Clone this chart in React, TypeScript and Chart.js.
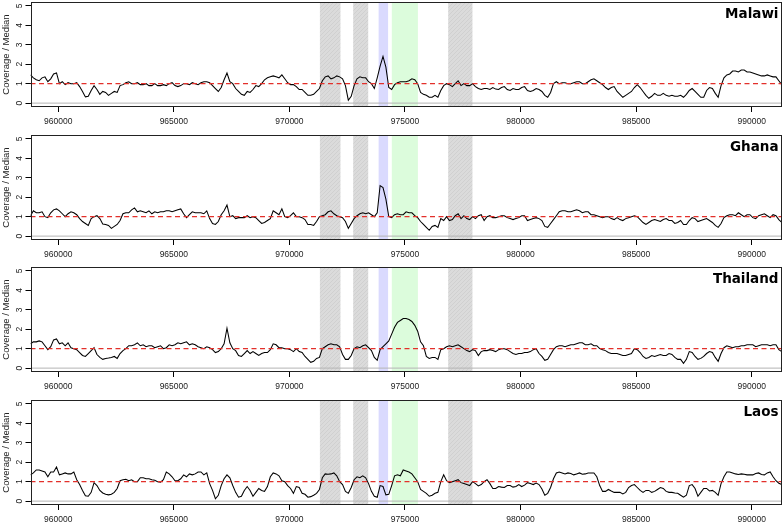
import React, { useEffect, useRef } from 'react';
import { Chart, registerables } from 'chart.js';
Chart.register(...registerables);

// ---- data ----
// coverage read at 250 bp bins, plus the values half-way between bins
const binStart = 958800;
const binStep = 250;
const midOffset = 125;
const xMin = 958800;
const xMax = 991290;
const xTickValues = [960000, 965000, 970000, 975000, 980000, 985000, 990000];
const yTickValues = [0, 1, 2, 3, 4, 5];
const medianLevel = 1;
const populations = ['Malawi', 'Ghana', 'Thailand', 'Laos'];

const malawiBins = [
  1.45, 1.2, 1.3, 1.1, 1.5, 1.0, 0.95, 1.0, 1.05, 0.6,
  0.35, 0.9, 0.45, 0.55, 0.5, 0.55, 0.95, 1.1, 1.0, 0.95,
  1.0, 0.9, 0.9, 0.95, 1.0, 0.9, 0.9, 1.0, 1.05, 0.95,
  1.1, 1.05, 0.75, 0.8, 1.55, 1.0, 0.6, 0.4, 0.55, 0.9,
  1.0, 1.3, 1.4, 1.3, 1.25, 0.95, 0.85, 0.7, 0.4, 0.45,
  0.75, 1.35, 1.25, 1.4, 1.25, 0.15, 0.9, 1.35, 1.3, 1.0,
  1.3, 2.4, 0.8, 0.95, 1.1,
  1.1, 1.25, 1.0, 0.45, 0.3, 0.4, 0.65, 1.0, 0.85, 1.15,
  1.0, 0.9, 0.85, 0.7, 0.75, 0.8, 0.7, 0.85, 0.65, 0.7,
  0.8, 0.65, 0.65, 0.7, 0.4, 0.55, 1.1, 1.05, 1.0, 1.05,
  1.1, 1.0, 1.2, 1.15, 0.95, 0.7, 0.85, 0.45, 0.4, 0.6,
  0.95, 0.6, 0.25, 0.5, 0.4, 0.4, 0.4, 0.35, 0.3, 0.65,
  0.6, 0.3, 0.65, 0.75, 0.3, 1.3, 1.5, 1.65, 1.7, 1.6,
  1.55, 1.45, 1.4, 1.4, 1.35, 0.95,
];
const malawiMid = [
  1.3, 1.15, 1.35, 1.25, 1.55, 1.1, 1.05, 1.0, 0.85, 0.32,
  0.65, 0.7, 0.6, 0.4, 0.6, 0.9, 1.05, 1.0, 1.05, 0.95,
  0.9, 1.0, 0.9, 0.9, 1.05, 0.85, 1.0, 0.95, 1.0, 1.05,
  1.1, 0.9, 0.6, 1.2, 1.1, 0.75, 0.45, 0.6, 0.7, 0.85,
  1.2, 1.35, 1.35, 1.45, 1.05, 0.95, 0.7, 0.55, 0.4, 0.6,
  1.15, 1.4, 1.3, 1.35, 0.9, 0.35, 1.25, 1.3, 1.1, 0.75,
  1.9, 1.85, 0.7, 1.05, 1.1,
  1.15, 1.2, 0.55, 0.4, 0.3, 0.3, 0.9, 0.95, 1.0, 0.9,
  0.9, 1.0, 0.75, 0.75, 0.7, 0.72, 0.8, 0.7, 0.75, 0.7,
  0.85, 0.6, 0.75, 0.6, 0.3, 1.0, 1.0, 1.05, 1.0, 1.1,
  1.0, 1.1, 1.25, 1.05, 0.8, 0.8, 0.6, 0.3, 0.5, 0.8,
  0.8, 0.4, 0.35, 0.4, 0.5, 0.35, 0.35, 0.4, 0.45, 0.75,
  0.45, 0.3, 0.8, 0.5, 0.9, 1.45, 1.65, 1.6, 1.7, 1.6,
  1.5, 1.4, 1.45, 1.35, 1.15,
];
const ghanaBins = [
  1.05, 1.2, 1.25, 0.95, 1.35, 1.3, 1.0, 1.25, 1.1, 0.75,
  0.55, 1.0, 0.9, 0.6, 0.4, 0.6, 1.15, 1.2, 1.45, 1.3,
  1.2, 1.15, 1.2, 1.25, 1.3, 1.3, 1.4, 0.95, 1.25, 1.2,
  1.15, 0.9, 0.6, 1.1, 1.6, 1.05, 0.95, 0.95, 0.95, 0.95,
  0.65, 0.8, 1.3, 1.1, 1.0, 1.05, 1.0, 0.95, 0.6, 0.55,
  1.0, 1.1, 1.3, 1.05, 0.95, 0.4, 0.9, 1.15, 1.15, 1.1,
  1.2, 2.5, 1.0, 1.1, 1.1,
  1.25, 1.2, 0.95, 0.6, 0.3, 0.55, 0.9, 1.0, 0.85, 1.15,
  1.05, 0.85, 0.9, 1.1, 1.0, 0.95, 1.0, 1.05, 0.9, 0.9,
  1.05, 0.8, 0.9, 0.9, 0.5, 0.65, 1.05, 1.3, 1.25, 1.3,
  1.3, 1.25, 1.1, 1.05, 0.95, 1.0, 0.85, 0.85, 0.9, 1.0,
  1.0, 0.7, 0.7, 0.85, 0.75, 0.9, 0.8, 0.7, 0.6, 0.8,
  0.9, 0.8, 0.9, 0.7, 0.45, 0.95, 1.1, 1.05, 1.1, 1.1,
  0.95, 1.05, 1.15, 0.95, 1.05, 0.7,
];
const ghanaMid = [
  1.3, 1.2, 1.0, 1.2, 1.4, 1.15, 1.15, 1.2, 0.9, 0.65,
  0.9, 1.05, 0.62, 0.55, 0.5, 0.8, 1.2, 1.35, 1.25, 1.25,
  1.3, 1.25, 1.25, 1.3, 1.25, 1.35, 1.15, 1.1, 1.2, 1.2,
  1.3, 0.65, 0.75, 1.3, 1.0, 0.9, 0.95, 1.05, 1.0, 0.8,
  0.7, 0.9, 1.2, 1.4, 0.95, 1.2, 1.0, 0.85, 0.6, 0.75,
  1.05, 1.25, 1.15, 1.0, 0.75, 0.65, 1.05, 1.2, 1.2, 1.0,
  2.6, 1.9, 0.95, 1.15, 1.1,
  1.2, 1.05, 0.75, 0.45, 0.5, 0.45, 0.8, 0.8, 1.05, 0.9,
  0.9, 1.0, 1.05, 0.8, 1.05, 0.95, 1.05, 0.95, 0.85, 0.95,
  1.05, 0.85, 0.95, 0.8, 0.45, 0.85, 1.25, 1.3, 1.25, 1.35,
  1.2, 1.25, 1.1, 1.0, 1.0, 0.9, 0.95, 0.8, 0.95, 1.05,
  0.85, 0.6, 0.8, 0.8, 0.85, 0.8, 0.65, 0.8, 0.6, 0.95,
  0.75, 0.85, 0.8, 0.55, 0.65, 1.05, 1.1, 1.2, 1.0, 1.1,
  0.9, 1.1, 1.05, 1.1, 0.85,
];
const thailandBins = [
  1.25, 1.35, 1.35, 0.95, 1.45, 1.25, 1.15, 1.05, 0.95, 0.65,
  0.75, 1.05, 0.55, 0.5, 0.55, 0.5, 0.9, 1.15, 1.2, 1.15,
  1.1, 1.15, 1.1, 1.0, 1.2, 1.2, 1.25, 1.35, 1.25, 1.1,
  1.0, 1.05, 0.8, 1.0, 2.05, 1.0, 0.65, 0.75, 0.75, 0.75,
  0.75, 0.8, 1.25, 1.05, 1.0, 0.95, 1.0, 0.8, 0.45, 0.35,
  0.55, 1.1, 1.25, 1.2, 0.7, 0.45, 1.0, 1.05, 1.2, 0.9,
  0.4, 1.1, 1.4, 2.1, 2.45,
  2.55, 2.4, 1.9, 1.15, 0.5, 0.55, 0.95, 1.1, 1.1, 1.2,
  1.0, 0.85, 0.9, 0.85, 0.9, 0.9, 0.95, 1.0, 0.85, 0.7,
  0.75, 0.8, 0.95, 0.75, 0.4, 0.7, 1.1, 1.15, 1.15, 1.2,
  1.3, 1.2, 1.25, 1.15, 0.95, 0.8, 0.75, 0.7, 0.65, 0.75,
  0.95, 0.6, 0.55, 0.6, 0.7, 0.65, 0.7, 0.45, 0.25, 0.85,
  0.6, 0.5, 0.75, 0.8, 0.35, 1.05, 1.1, 1.1, 1.15, 1.2,
  1.2, 1.15, 1.2, 1.15, 1.2, 0.85,
];
const thailandMid = [
  1.35, 1.4, 1.15, 1.1, 1.5, 1.3, 1.3, 1.0, 0.8, 0.6,
  0.9, 0.7, 0.45, 0.52, 0.6, 0.75, 1.0, 1.15, 1.3, 1.2,
  1.15, 1.05, 1.15, 1.05, 1.15, 1.3, 1.3, 1.2, 1.2, 1.05,
  1.1, 0.95, 0.85, 1.25, 1.3, 0.9, 0.6, 0.9, 0.85, 0.65,
  0.8, 0.95, 1.2, 1.05, 1.0, 0.85, 0.85, 0.6, 0.3, 0.5,
  1.0, 1.2, 1.2, 1.1, 0.45, 0.65, 1.1, 1.15, 1.05, 0.55,
  0.95, 1.25, 1.75, 2.35, 2.55,
  2.5, 2.2, 1.35, 0.6, 0.55, 0.45, 1.0, 1.15, 1.15, 1.1,
  0.9, 0.95, 0.65, 0.9, 0.95, 0.85, 1.0, 0.95, 0.75, 0.75,
  0.8, 0.85, 1.0, 0.6, 0.45, 0.95, 1.15, 1.1, 1.2, 1.25,
  1.3, 1.2, 1.15, 1.0, 0.9, 0.75, 0.75, 0.65, 0.7, 1.0,
  0.8, 0.5, 0.65, 0.65, 0.65, 0.75, 0.55, 0.45, 0.45, 0.8,
  0.45, 0.6, 0.85, 0.55, 0.75, 1.15, 1.05, 1.1, 1.15, 1.2,
  1.1, 1.2, 1.2, 1.2, 0.95,
];
const laosBins = [
  1.35, 1.6, 1.55, 1.25, 1.5, 1.35, 1.45, 1.4, 1.1, 0.55,
  0.25, 0.95, 0.55, 0.35, 0.35, 0.65, 1.1, 1.05, 1.0, 1.2,
  1.15, 1.1, 1.0, 1.1, 1.4, 1.05, 1.15, 1.25, 1.35, 1.5,
  1.35, 0.9, 0.12, 0.8, 1.35, 0.8, 0.2, 0.55, 0.55, 0.45,
  0.55, 0.75, 1.45, 1.3, 1.0, 0.65, 0.75, 0.4, 0.2, 0.3,
  0.6, 1.4, 1.4, 1.3, 0.85, 0.4, 1.1, 1.2, 1.2, 0.5,
  0.2, 0.75, 0.35, 1.3, 1.3,
  1.55, 1.4, 1.0, 0.5, 0.25, 0.4, 1.0, 1.05, 1.0, 1.1,
  0.9, 0.8, 0.9, 0.85, 1.1, 0.65, 0.75, 0.7, 0.8, 0.75,
  0.75, 0.95, 0.85, 0.85, 0.3, 0.7, 1.45, 1.45, 1.45, 1.35,
  1.45, 1.4, 1.45, 1.25, 0.5, 0.6, 0.45, 0.45, 0.45, 0.8,
  0.7, 0.45, 0.55, 0.5, 0.7, 0.5, 0.45, 0.4, 0.2, 0.8,
  0.65, 0.45, 0.65, 0.55, 0.3, 1.25, 1.5, 1.4, 1.4, 1.35,
  1.35, 1.45, 1.35, 1.5, 1.05, 0.85,
];
const laosMid = [
  1.45, 1.6, 1.5, 1.5, 1.75, 1.4, 1.4, 1.5, 0.85, 0.28,
  0.45, 0.8, 0.42, 0.32, 0.45, 1.05, 1.12, 1.1, 1.0, 1.2,
  1.15, 1.07, 0.97, 1.5, 1.25, 1.05, 1.35, 1.4, 1.4, 1.5,
  1.45, 0.55, 0.3, 1.15, 1.2, 0.45, 0.25, 0.75, 0.25, 0.65,
  0.5, 1.25, 1.4, 1.05, 0.8, 0.4, 0.7, 0.35, 0.23, 0.4,
  1.2, 1.38, 1.45, 1.0, 0.5, 0.7, 1.25, 1.3, 0.9, 0.25,
  0.8, 0.32, 0.8, 1.35, 1.6,
  1.5, 1.2, 0.6, 0.4, 0.3, 0.45, 1.35, 0.95, 1.05, 0.95,
  0.85, 1.0, 0.78, 1.0, 0.9, 0.65, 0.72, 0.8, 0.72, 0.85,
  0.82, 0.9, 0.93, 0.62, 0.4, 1.15, 1.5, 1.4, 1.42, 1.4,
  1.38, 1.45, 1.45, 0.8, 0.5, 0.52, 0.45, 0.37, 0.7, 0.85,
  0.55, 0.55, 0.45, 0.6, 0.65, 0.45, 0.42, 0.3, 0.3, 0.85,
  0.25, 0.65, 0.52, 0.45, 0.9, 1.5, 1.45, 1.37, 1.38, 1.35,
  1.42, 1.37, 1.45, 1.25, 0.92,
];
const coverageBins = [malawiBins, ghanaBins, thailandBins, laosBins];
const coverageMid = [malawiMid, ghanaMid, thailandMid, laosMid];

const regionStart = [971320, 972760, 973860, 974430, 976870];
const regionEnd = [972210, 973410, 974270, 975560, 977920];
const regionKind = ['hatch', 'hatch', 'blue', 'green', 'hatch'];

// ---- styles ----
const regionColors: Record<string, string> = { blue: '#dadafe', green: '#dcfcdc' };
const panelTops = [0, 133, 265, 398];
const canvasH = 133;
const tickFont = { family: 'Liberation Sans, Arial, sans-serif', size: 8.5 };

function makeHatch(ctx: CanvasRenderingContext2D) {
  const off = document.createElement('canvas');
  off.width = 4;
  off.height = 4;
  const c = off.getContext('2d')!;
  c.fillStyle = '#dbdbdb';
  c.fillRect(0, 0, 4, 4);
  c.strokeStyle = '#d0d0d0';
  c.lineWidth = 1;
  c.beginPath();
  c.moveTo(0, 4);
  c.lineTo(4, 0);
  c.stroke();
  return ctx.createPattern(off, 'repeat')!;
}

const regionsPlugin = {
  id: 'regions',
  beforeDatasetsDraw(chart: any) {
    const { ctx, chartArea, scales } = chart;
    const x = scales.x;
    ctx.save();
    ctx.beginPath();
    ctx.rect(chartArea.left, chartArea.top, chartArea.right - chartArea.left, chartArea.bottom - chartArea.top);
    ctx.clip();
    const hatch = makeHatch(ctx);
    regionStart.forEach((s, i) => {
      const x0 = x.getPixelForValue(s);
      const x1 = x.getPixelForValue(regionEnd[i]);
      ctx.fillStyle = regionKind[i] === 'hatch' ? hatch : regionColors[regionKind[i]];
      ctx.fillRect(x0, chartArea.top, x1 - x0, chartArea.bottom - chartArea.top);
    });
    ctx.restore();
  },
};

function framePlugin(name: string) {
  return {
    id: 'frame',
    afterDraw(chart: any) {
      const { ctx, chartArea } = chart;
      ctx.save();
      ctx.strokeStyle = '#222';
      ctx.lineWidth = 1;
      const l = Math.round(chartArea.left) + 0.5;
      const t = Math.round(chartArea.top) + 0.5;
      const r = Math.round(chartArea.right) - 0.5;
      const b = Math.round(chartArea.bottom) - 0.5;
      ctx.strokeRect(l, t, r - l, b - t);
      ctx.fillStyle = '#000';
      ctx.font = 'bold 13.5px "DejaVu Sans", sans-serif';
      ctx.textAlign = 'right';
      ctx.textBaseline = 'alphabetic';
      ctx.fillText(name, chartArea.right - 3, chartArea.top + 15.5);
      ctx.restore();
    },
  };
}

function Panel({ name, bins, mids, top }: { name: string; bins: number[]; mids: number[]; top: number }) {
  const ref = useRef<HTMLCanvasElement>(null);
  useEffect(() => {
    const canvas = ref.current!;
    const points = bins
      .map((v, i) => ({ x: binStart + i * binStep, y: v }))
      .concat(mids.map((v, i) => ({ x: binStart + midOffset + i * binStep, y: v })))
      .sort((a, b) => a.x - b.x);
    const chart = new Chart(canvas, {
      type: 'line',
      data: {
        datasets: [
          {
            data: [{ x: xMin, y: medianLevel }, { x: xMax, y: medianLevel }],
            borderColor: '#e3302b',
            borderWidth: 1.4,
            borderDash: [5, 3.5],
            pointRadius: 0,
          },
          {
            data: points,
            borderColor: '#000',
            borderWidth: 1.05,
            pointRadius: 0,
            tension: 0,
          },
          {
            data: [{ x: xMin, y: 0 }, { x: xMax, y: 0 }],
            borderColor: '#b4b4b4',
            borderWidth: 1,
            pointRadius: 0,
          },
        ],
      },
      options: {
        animation: false,
        responsive: false,
        events: [],
        layout: { padding: { top: 2, right: 2.5, left: 0, bottom: 0 } },
        plugins: { legend: { display: false }, tooltip: { enabled: false } },
        scales: {
          x: {
            type: 'linear',
            min: xMin,
            max: xMax,
            afterBuildTicks: (s: any) => {
              s.ticks = xTickValues.map((v) => ({ value: v }));
            },
            afterFit: (s: any) => {
              s.height = canvasH - 2 - 105;
              s.paddingLeft = 0;
              s.paddingRight = 0;
            },
            grid: { display: true, drawOnChartArea: false, drawTicks: true, tickLength: 5, color: '#000' },
            border: { display: false },
            ticks: {
              autoSkip: false,
              minRotation: 0,
              maxRotation: 0,
              padding: 5,
              color: '#222',
              font: tickFont,
              callback: (v: any) => String(v),
            },
          },
          y: {
            type: 'linear',
            min: -0.2,
            max: 5.2,
            afterBuildTicks: (s: any) => {
              s.ticks = yTickValues.map((v) => ({ value: v }));
            },
            afterFit: (s: any) => {
              s.width = 30.5;
              s.paddingTop = 0;
              s.paddingBottom = 0;
            },
            grid: { display: true, drawOnChartArea: false, drawTicks: true, tickLength: 5, color: '#000' },
            border: { display: false },
            ticks: {
              autoSkip: false,
              minRotation: 90,
              maxRotation: 90,
              crossAlign: 'center',
              padding: 3,
              color: '#222',
              font: tickFont,
              callback: (v: any) => String(v),
            },
            title: {
              display: true,
              text: 'Coverage / Median',
              color: '#222',
              font: { family: 'Liberation Sans, Arial, sans-serif', size: 9.5 },
              padding: { top: 0.5, bottom: 0 },
            },
          },
        },
      },
      plugins: [regionsPlugin, framePlugin(name)],
    } as any);
    return () => chart.destroy();
  }, [name, bins, mids]);
  return (
    <canvas
      ref={ref}
      width={784}
      height={canvasH}
      style={{ position: 'absolute', left: 0, top, width: 784, height: canvasH, display: 'block' }}
    />
  );
}

export default function App() {
  return (
    <div style={{ position: 'absolute', left: 0, top: 0, width: 784, height: 525, background: '#fff' }}>
      {populations.map((p, i) => (
        <Panel key={p} name={p} bins={coverageBins[i]} mids={coverageMid[i]} top={panelTops[i]} />
      ))}
    </div>
  );
}
